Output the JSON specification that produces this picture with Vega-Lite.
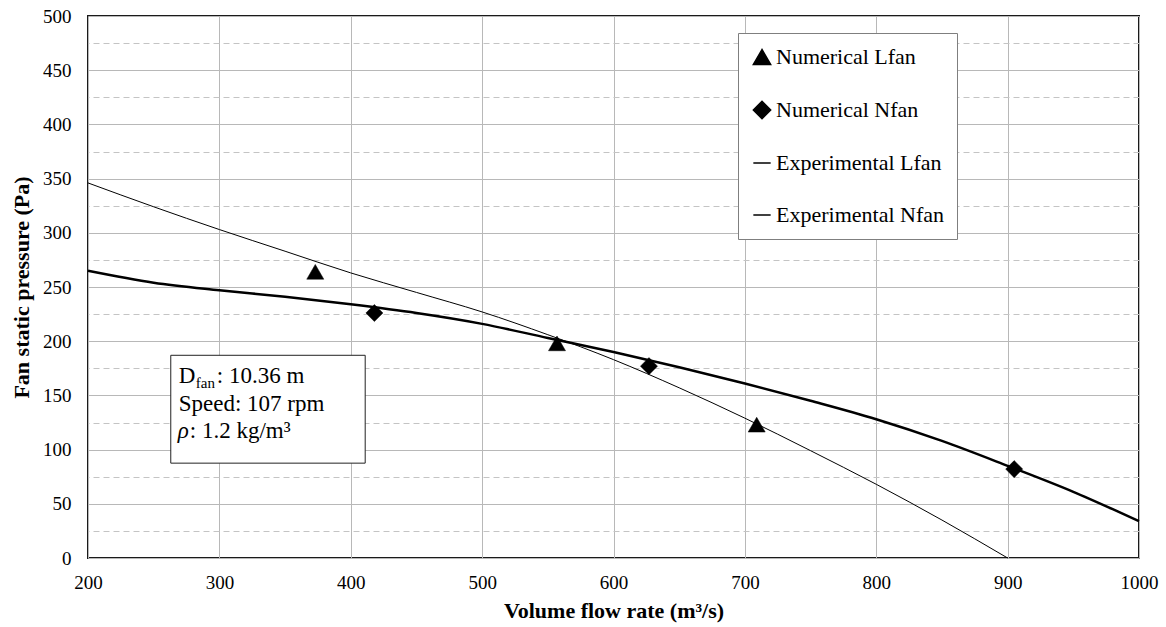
{
  "$schema": "https://vega.github.io/schema/vega-lite/v6.json",
  "width": 1051,
  "height": 542,
  "autosize": {"type": "none"},
  "padding": {"left": 88, "top": 16, "right": 27, "bottom": 69},
  "background": "white",
  "config": {
    "view": {"stroke": "#1a1a1a", "strokeWidth": 2},
    "font": "Liberation Serif",
    "axis": {
      "labelFont": "Liberation Serif",
      "labelFontSize": 19,
      "labelColor": "black",
      "titleFont": "Liberation Serif",
      "titleFontSize": 22,
      "titleFontWeight": "bold",
      "titleColor": "black",
      "ticks": false,
      "domain": false,
      "gridColor": "#b8b8b8",
      "gridWidth": 1,
      "gridOpacity": 1
    }
  },
  "datasets": {
    "exp": [
      {"series": "Experimental Lfan", "x": 200, "y": 346},
      {"series": "Experimental Lfan", "x": 250, "y": 324},
      {"series": "Experimental Lfan", "x": 300, "y": 303},
      {"series": "Experimental Lfan", "x": 350, "y": 283},
      {"series": "Experimental Lfan", "x": 400, "y": 263},
      {"series": "Experimental Lfan", "x": 450, "y": 245},
      {"series": "Experimental Lfan", "x": 500, "y": 227},
      {"series": "Experimental Lfan", "x": 550, "y": 206},
      {"series": "Experimental Lfan", "x": 600, "y": 183},
      {"series": "Experimental Lfan", "x": 650, "y": 157},
      {"series": "Experimental Lfan", "x": 700, "y": 129},
      {"series": "Experimental Lfan", "x": 750, "y": 99},
      {"series": "Experimental Lfan", "x": 800, "y": 68},
      {"series": "Experimental Lfan", "x": 850, "y": 35},
      {"series": "Experimental Lfan", "x": 900, "y": 0},
      {"series": "Experimental Nfan", "x": 200, "y": 265},
      {"series": "Experimental Nfan", "x": 250, "y": 254},
      {"series": "Experimental Nfan", "x": 300, "y": 247},
      {"series": "Experimental Nfan", "x": 350, "y": 241},
      {"series": "Experimental Nfan", "x": 400, "y": 234},
      {"series": "Experimental Nfan", "x": 450, "y": 226},
      {"series": "Experimental Nfan", "x": 500, "y": 216},
      {"series": "Experimental Nfan", "x": 550, "y": 203},
      {"series": "Experimental Nfan", "x": 600, "y": 190},
      {"series": "Experimental Nfan", "x": 650, "y": 176},
      {"series": "Experimental Nfan", "x": 700, "y": 161},
      {"series": "Experimental Nfan", "x": 750, "y": 145},
      {"series": "Experimental Nfan", "x": 800, "y": 128},
      {"series": "Experimental Nfan", "x": 850, "y": 108},
      {"series": "Experimental Nfan", "x": 900, "y": 85},
      {"series": "Experimental Nfan", "x": 950, "y": 61},
      {"series": "Experimental Nfan", "x": 980, "y": 45},
      {"series": "Experimental Nfan", "x": 1000, "y": 34}
    ],
    "num": [
      {"series": "Numerical Lfan", "x": 373, "y": 264},
      {"series": "Numerical Lfan", "x": 557, "y": 198},
      {"series": "Numerical Lfan", "x": 709, "y": 123},
      {"series": "Numerical Nfan", "x": 418, "y": 226},
      {"series": "Numerical Nfan", "x": 627, "y": 177},
      {"series": "Numerical Nfan", "x": 905, "y": 82}
    ],
    "note": [
      {"x": 263, "x2": 411, "y": 187, "y2": 87.5}
    ]
  },
  "encoding": {
    "x": {"field": "x", "type": "quantitative", "scale": {"domain": [200, 1000], "nice": false, "zero": false},
      "axis": {"values": [200, 300, 400, 500, 600, 700, 800, 900, 1000], "format": "d", "grid": true, "labelPadding": 15, "labelFont": "Liberation Serif", "labelFontSize": 19, "labelColor": "black", "title": "Volume flow rate (m³/s)", "titleFont": "Liberation Serif", "titleFontSize": 22, "titleFontWeight": "bold", "titlePadding": 8, "labelFlush": false, "ticks": false, "domain": false}}
  },
  "layer": [
    {
      "data": {"name": "exp"},
      "transform": [{"filter": "datum.series === 'Experimental Lfan'"}],
      "mark": {"type": "line", "color": "black", "strokeWidth": 1, "interpolate": "monotone"},
      "encoding": {
        "y": {"field": "y", "type": "quantitative", "scale": {"domain": [0, 500], "nice": false},
          "axis": {"values": [0, 50, 100, 150, 200, 250, 300, 350, 400, 450, 500], "format": "d", "grid": true, "labelPadding": 17, "labelFont": "Liberation Serif", "labelFontSize": 19, "labelColor": "black", "title": "Fan static pressure (Pa)", "titleFont": "Liberation Serif", "titleFontSize": 22, "titleFontWeight": "bold", "titlePadding": 9, "labelFlush": false, "ticks": false, "domain": false}}
      }
    },
    {
      "data": {"name": "exp"},
      "transform": [{"filter": "datum.series === 'Experimental Nfan'"}],
      "mark": {"type": "line", "color": "black", "strokeWidth": 2.5, "interpolate": "monotone"},
      "encoding": {
        "y": {"field": "y", "type": "quantitative", "scale": {"domain": [0, 500], "nice": false}, "axis": null}
      }
    },
    {
      "data": {"name": "note"},
      "mark": {"type": "rect", "fill": "white", "stroke": "#222222", "strokeWidth": 1},
      "encoding": {
        "x2": {"field": "x2"},
        "y": {"field": "y", "type": "quantitative", "scale": {"domain": [0, 500], "nice": false},
          "axis": {"orient": "right", "values": [25, 75, 125, 175, 225, 275, 325, 375, 425, 475], "grid": true, "gridDash": [6, 4], "gridColor": "#c4c4c4", "labels": false, "ticks": false, "domain": false, "title": null}},
        "y2": {"field": "y2"}
      }
    },
    {
      "data": {"name": "note"},
      "mark": {"type": "text", "text": "D", "align": "left", "baseline": "alphabetic", "dx": 8, "dy": 28, "fontSize": 23, "font": "Liberation Serif", "color": "black"},
      "encoding": {"y": {"field": "y", "type": "quantitative", "scale": {"domain": [0, 500], "nice": false}, "axis": null}}
    },
    {
      "data": {"name": "note"},
      "mark": {"type": "text", "text": "fan", "align": "left", "baseline": "alphabetic", "dx": 25, "dy": 33, "fontSize": 15, "font": "Liberation Serif", "color": "black"},
      "encoding": {"y": {"field": "y", "type": "quantitative", "scale": {"domain": [0, 500], "nice": false}, "axis": null}}
    },
    {
      "data": {"name": "note"},
      "mark": {"type": "text", "text": ": 10.36 m", "align": "left", "baseline": "alphabetic", "dx": 46, "dy": 28, "fontSize": 23, "font": "Liberation Serif", "color": "black"},
      "encoding": {"y": {"field": "y", "type": "quantitative", "scale": {"domain": [0, 500], "nice": false}, "axis": null}}
    },
    {
      "data": {"name": "note"},
      "mark": {"type": "text", "text": "Speed: 107 rpm", "align": "left", "baseline": "alphabetic", "dx": 8, "dy": 56, "fontSize": 23, "font": "Liberation Serif", "color": "black"},
      "encoding": {"y": {"field": "y", "type": "quantitative", "scale": {"domain": [0, 500], "nice": false}, "axis": null}}
    },
    {
      "data": {"name": "note"},
      "mark": {"type": "text", "text": "ρ", "align": "left", "baseline": "alphabetic", "dx": 7, "dy": 83, "fontSize": 23, "fontStyle": "italic", "font": "Liberation Serif", "color": "black"},
      "encoding": {"y": {"field": "y", "type": "quantitative", "scale": {"domain": [0, 500], "nice": false}, "axis": null}}
    },
    {
      "data": {"name": "note"},
      "mark": {"type": "text", "text": ": 1.2 kg/m³", "align": "left", "baseline": "alphabetic", "dx": 19, "dy": 83, "fontSize": 23, "font": "Liberation Serif", "color": "black"},
      "encoding": {"y": {"field": "y", "type": "quantitative", "scale": {"domain": [0, 500], "nice": false}, "axis": null}}
    },
    {
      "data": {"name": "num"},
      "mark": {"type": "point", "filled": true, "fill": "black", "stroke": "black", "strokeWidth": 0.5, "size": 290, "opacity": 1},
      "encoding": {
        "y": {"field": "y", "type": "quantitative", "scale": {"domain": [0, 500], "nice": false}, "axis": null},
        "shape": {"field": "series", "type": "nominal",
          "scale": {"domain": ["Numerical Lfan", "Numerical Nfan", "Experimental Lfan", "Experimental Nfan"], "range": ["triangle-up", "diamond", "stroke", "stroke"]},
          "legend": {"title": null, "orient": "none", "legendX": 650, "legendY": 17, "padding": 13, "fillColor": "white", "strokeColor": "#7f7f7f", "labelFont": "Liberation Serif", "labelFontSize": 22, "labelColor": "black", "labelLimit": 400, "rowPadding": 30, "labelOffset": 3, "symbolSize": 300,
            "encode": {"symbols": {"update": {
              "fill": {"value": "black"},
              "stroke": {"value": "black"},
              "strokeWidth": {"value": 1.6},
              "opacity": {"value": 1}
            }}}}}
      }
    }
  ],
  "resolve": {"axis": {"y": "independent"}}
}
